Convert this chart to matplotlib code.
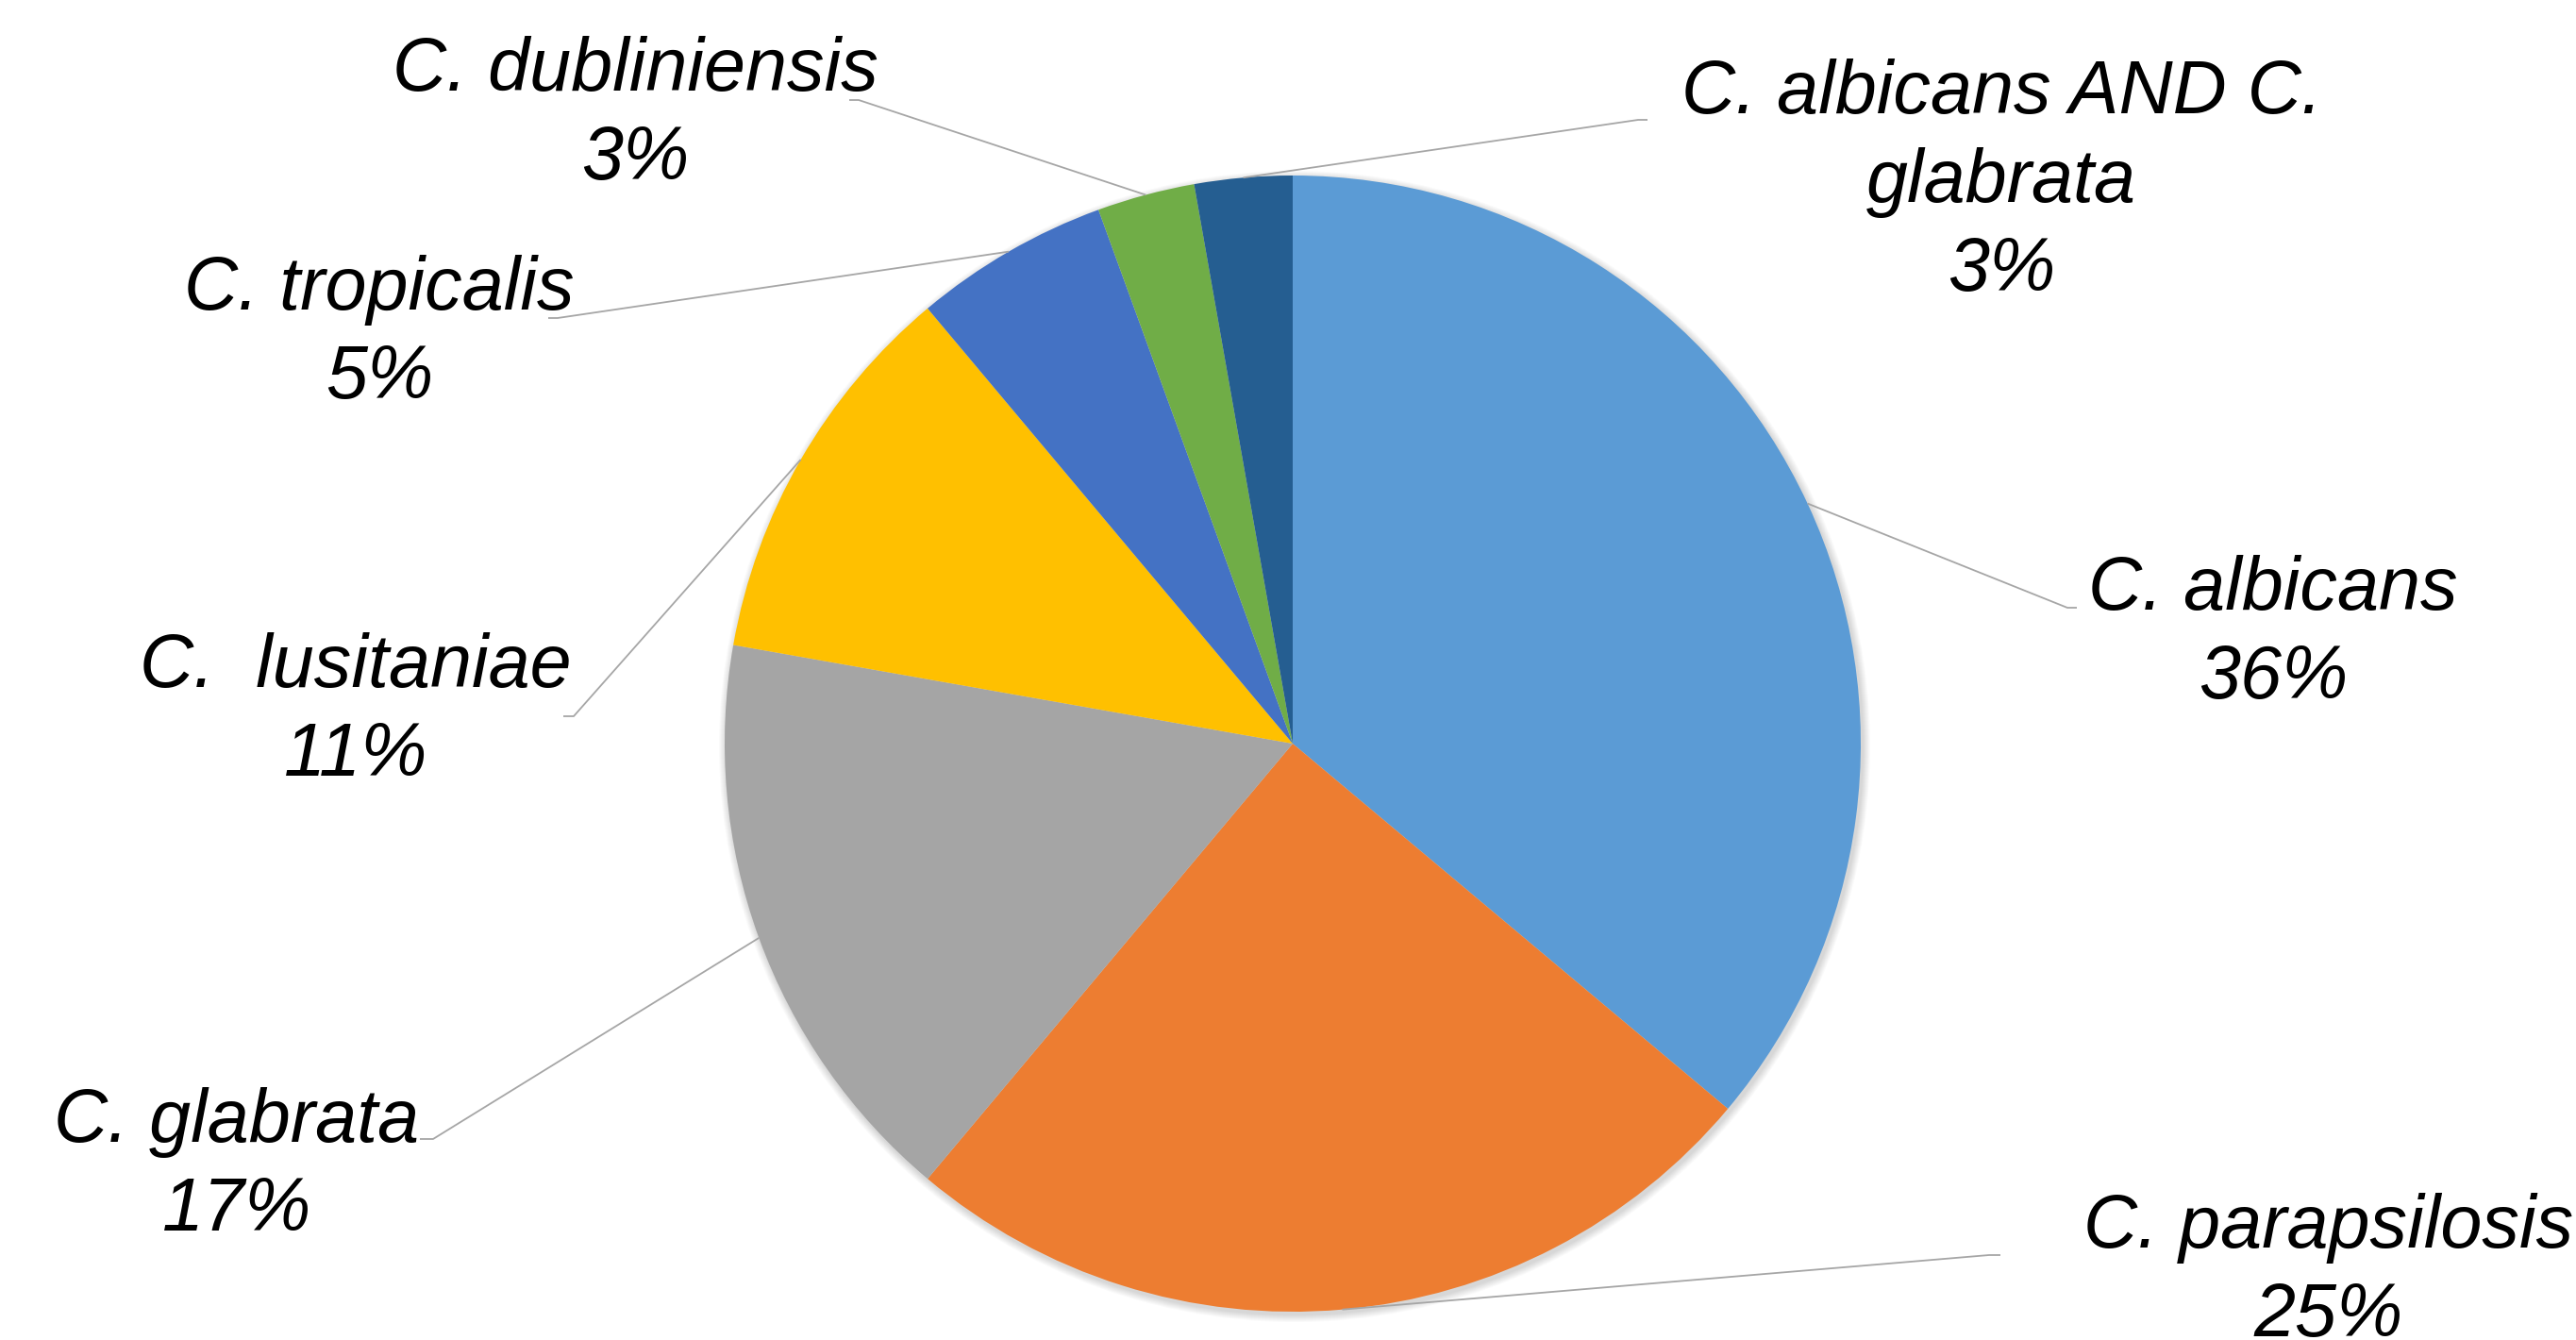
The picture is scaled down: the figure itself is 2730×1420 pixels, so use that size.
import matplotlib.pyplot as plt
import numpy as np
from matplotlib.patches import Circle

# data (isolate counts; label percentages as printed)
species = ["C. albicans", "C. parapsilosis", "C. glabrata", "C.  lusitaniae",
           "C. tropicalis", "C. dubliniensis", "C. albicans AND C.\nglabrata"]
counts = [13, 9, 6, 4, 2, 1, 1]
pct_labels = ["36%", "25%", "17%", "11%", "5%", "3%", "3%"]
colors = ["#5B9BD5", "#ED7D31", "#A5A5A5", "#FFC000", "#4472C4", "#70AD47", "#255E91"]

# layout in pixels (y measured from top)
W, H = 2730, 1420
cx, cy, r = 1370, 788, 602
# text top-centre and leader line elbow/end at the label side
label_xy = [(2409, 588), (2468, 1264), (251, 1152), (377, 670),
            (402, 270), (673, 38), (2121, 62)]
elbow_xy = [(2191, 644), (2108, 1330), (459, 1207), (608, 759),
            (591, 337), (910, 106), (1736, 127)]
end_xy = [(2201, 644), (2120, 1330), (445, 1207), (597, 759),
          (581, 337), (900, 106), (1746, 127)]

fig = plt.figure(figsize=(W / 100, H / 100), dpi=100)
ax = fig.add_axes([0, 0, 1, 1])

# soft shadow under the pie
for i in range(8):
    ax.add_patch(Circle((cx + 2, H - cy - 3), r + 1 + i, color="black",
                        alpha=0.018, lw=0, zorder=0))

wedges, _ = ax.pie(counts, colors=colors, startangle=90, counterclock=False,
                   center=(cx, H - cy), radius=r, frame=True,
                   wedgeprops=dict(linewidth=0))
for w in wedges:
    w.set_zorder(1)

for i, w in enumerate(wedges):
    mid = np.deg2rad((w.theta1 + w.theta2) / 2)
    px = cx + r * np.cos(mid)
    py = (H - cy) + r * np.sin(mid)
    ex, ey = elbow_xy[i]
    fx, fy = end_xy[i]
    ax.plot([px, ex, fx], [py, H - ey, H - fy], color="#A6A6A6", lw=1.3,
            zorder=2, solid_capstyle="butt")
    tx, ty = label_xy[i]
    ax.text(tx, H - ty, species[i] + "\n" + pct_labels[i], ha="center", va="top",
            multialignment="center", fontsize=57, fontstyle="italic",
            family=["Liberation Sans", "DejaVu Sans"], linespacing=1.33,
            color="black", zorder=3)

ax.set_xlim(0, W)
ax.set_ylim(0, H)
ax.set_aspect("auto")
ax.axis("off")

fig.savefig("out.png", dpi=100, facecolor="white")
